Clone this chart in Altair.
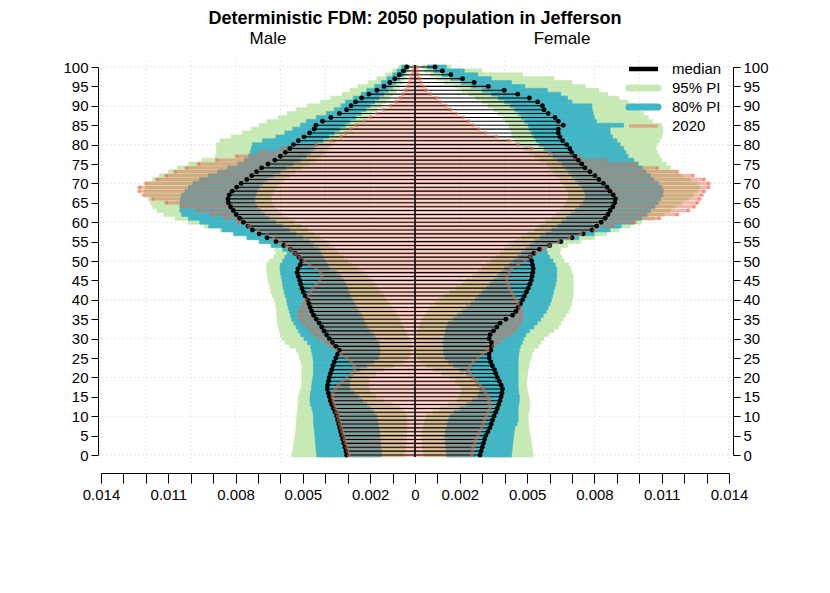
import altair as alt
import pandas as pd

# ---------------- data (values in units of 0.001 = per mille of total population) ----------
AGES = list(range(0, 101))

MALE_MEDIAN = [3.05, 3.08, 3.12, 3.17, 3.22, 3.27, 3.32, 3.36, 3.40, 3.45, 3.49, 3.56, 3.64, 3.71, 3.77, 3.82,
               3.87, 3.91, 3.90, 3.86, 3.82, 3.77, 3.71, 3.66, 3.60, 3.53, 3.45, 3.38, 3.53, 3.68, 3.82, 3.94,
               4.06, 4.16, 4.27, 4.40, 4.52, 4.60, 4.67, 4.73, 4.80, 4.90, 4.98, 5.04, 5.10, 5.14, 5.20, 5.26,
               5.22, 5.12, 5.05, 5.18, 5.35, 5.55, 5.85, 6.20, 6.60, 6.95, 7.25, 7.45, 7.65, 7.82, 7.97, 8.10,
               8.22, 8.32, 8.34, 8.28, 8.15, 7.95, 7.75, 7.50, 7.28, 7.06, 6.84, 6.55, 6.25, 6.00, 5.78, 5.58,
               5.42, 5.20, 4.95, 4.70, 4.50, 4.42, 4.12, 3.75, 3.37, 3.05, 2.85, 2.65, 2.38, 2.06, 1.70, 1.38,
               1.12, 0.90, 0.70, 0.52, 0.37]
MALE_2020 = [2.95, 3.00, 3.05, 3.10, 3.15, 3.20, 3.25, 3.30, 3.35, 3.40, 3.45, 3.50, 3.55, 3.60, 3.65, 3.68,
             3.66, 3.55, 3.42, 3.25, 3.05, 2.85, 2.70, 2.72, 2.85, 3.05, 3.30, 3.50, 3.75, 4.00, 4.25, 4.45,
             4.60, 4.80, 4.97, 5.10, 5.15, 5.15, 5.05, 4.98, 4.88, 4.75, 4.65, 4.55, 4.40, 4.25, 4.15, 4.20,
             4.40, 4.70, 4.95, 5.15, 5.35, 5.55, 5.75, 6.00, 6.30, 6.60, 7.00, 7.40, 7.90, 8.45, 9.06, 9.70,
             10.40, 11.10, 11.70, 12.10, 12.30, 12.30, 12.00, 11.50, 11.10, 10.70, 10.20, 9.66, 8.84, 7.95,
             6.90, 5.94, 4.40, 3.75, 3.30, 3.10, 2.85, 2.60, 2.25, 2.00, 1.70, 1.40, 1.10, 0.85, 0.68, 0.55,
             0.42, 0.33, 0.26, 0.20, 0.15, 0.10, 0.07]
MALE_HI95 = [5.50, 5.45, 5.42, 5.40, 5.37, 5.35, 5.33, 5.30, 5.30, 5.28, 5.27, 5.25, 5.24, 5.22, 5.20, 5.20,
             5.15, 5.10, 5.05, 5.05, 5.05, 5.05, 5.05, 5.05, 5.10, 5.15, 5.20, 5.30, 5.60, 5.80, 5.94, 6.00,
             6.05, 6.10, 6.12, 6.15, 6.17, 6.17, 6.20, 6.22, 6.28, 6.35, 6.42, 6.46, 6.50, 6.55, 6.58, 6.60,
             6.62, 6.62, 6.50, 6.30, 6.20, 6.25, 6.45, 6.85, 7.40, 8.00, 8.70, 9.40, 10.10, 10.70, 11.20, 11.50,
             11.70, 11.80, 11.90, 12.00, 12.05, 12.00, 11.90, 11.70, 11.40, 11.00, 10.60, 10.10, 9.50, 8.90,
             8.85, 8.85, 8.85, 8.70, 8.20, 7.70, 7.30, 6.95, 6.60, 6.10, 5.70, 5.30, 4.80, 4.20, 3.75, 3.25,
             2.90, 2.55, 2.10, 1.70, 1.30, 1.00, 0.74]
MALE_HI80 = [4.38, 4.40, 4.42, 4.43, 4.45, 4.46, 4.48, 4.50, 4.52, 4.53, 4.53, 4.55, 4.60, 4.65, 4.68, 4.68,
             4.66, 4.62, 4.60, 4.58, 4.55, 4.53, 4.53, 4.53, 4.53, 4.55, 4.58, 4.62, 4.65, 4.80, 4.95, 5.10,
             5.20, 5.30, 5.40, 5.50, 5.55, 5.60, 5.65, 5.70, 5.72, 5.78, 5.83, 5.87, 5.90, 5.93, 5.96, 6.00,
             6.02, 6.00, 5.90, 5.80, 5.70, 5.90, 6.40, 6.95, 7.50, 8.10, 8.60, 9.20, 9.60, 10.10, 10.40, 10.48,
             10.48, 10.48, 10.45, 10.40, 10.25, 10.10, 9.90, 9.60, 9.20, 8.80, 8.35, 7.90, 7.60, 7.43, 7.35,
             7.30, 7.25, 6.80, 6.20, 5.80, 5.45, 5.10, 4.85, 4.40, 3.95, 3.60, 3.30, 3.10, 2.75, 2.40, 2.15,
             1.80, 1.50, 1.25, 1.00, 0.80, 0.60]
MALE_LO80 = [1.49, 1.50, 1.52, 1.53, 1.55, 1.56, 1.58, 1.62, 1.65, 1.68, 1.71, 1.85, 2.00, 2.15, 2.35, 2.53,
             2.72, 2.90, 2.92, 2.90, 2.85, 2.75, 2.45, 2.15, 1.85, 1.63, 1.58, 1.56, 1.58, 1.63, 1.75, 1.86,
             2.00, 2.15, 2.23, 2.30, 2.40, 2.50, 2.60, 2.70, 2.80, 2.90, 2.95, 3.00, 3.10, 3.20, 3.30, 3.50,
             3.80, 3.90, 4.00, 4.10, 4.20, 4.30, 4.50, 4.70, 5.00, 5.30, 5.60, 5.90, 6.20, 6.50, 6.70, 6.90,
             7.05, 7.13, 7.15, 7.10, 7.05, 6.95, 6.80, 6.60, 6.30, 6.00, 5.75, 5.45, 5.10, 4.85, 4.65, 4.50,
             4.35, 4.10, 3.85, 3.60, 3.35, 3.10, 2.90, 2.65, 2.40, 2.20, 2.00, 1.80, 1.60, 1.40, 1.20, 1.00,
             0.85, 0.68, 0.52, 0.40, 0.28]
MALE_LO95 = [0.45, 0.43, 0.41, 0.40, 0.38, 0.37, 0.37, 0.37, 0.37, 0.37, 0.37, 0.50, 0.67, 1.00, 1.41, 1.75,
             2.00, 2.05, 2.08, 2.05, 2.00, 1.75, 1.41, 0.95, 0.52, 0.35, 0.22, 0.18, 0.15, 0.20, 0.30, 0.37,
             0.45, 0.52, 0.60, 0.70, 0.80, 0.90, 1.00, 1.15, 1.30, 1.40, 1.55, 1.70, 1.80, 1.95, 2.10, 2.30,
             2.60, 2.80, 3.00, 3.20, 3.40, 3.60, 3.80, 4.00, 4.25, 4.50, 4.80, 5.10, 5.40, 5.70, 5.95, 6.15,
             6.30, 6.39, 6.42, 6.40, 6.30, 6.20, 6.05, 5.85, 5.60, 5.35, 5.05, 4.75, 4.45, 4.20, 4.00, 3.85,
             3.75, 3.55, 3.30, 3.05, 2.80, 2.55, 2.30, 2.10, 1.90, 1.70, 1.50, 1.32, 1.15, 1.00, 0.85, 0.70,
             0.58, 0.46, 0.36, 0.27, 0.19]

FEMALE_MEDIAN = [2.90, 2.95, 3.00, 3.05, 3.10, 3.16, 3.25, 3.34, 3.40, 3.46, 3.52, 3.60, 3.67, 3.73, 3.79, 3.84,
                 3.88, 3.90, 3.84, 3.76, 3.67, 3.60, 3.54, 3.45, 3.37, 3.31, 3.30, 3.38, 3.42, 3.40, 3.30, 3.35,
                 3.50, 3.65, 3.80, 4.05, 4.35, 4.50, 4.60, 4.70, 4.80, 4.88, 4.97, 5.05, 5.12, 5.18, 5.22, 5.25,
                 5.27, 5.24, 5.20, 5.13, 5.30, 5.55, 6.00, 6.50, 7.00, 7.50, 7.90, 8.10, 8.30, 8.48, 8.60, 8.70,
                 8.82, 8.90, 8.94, 8.84, 8.69, 8.57, 8.40, 8.20, 8.02, 7.80, 7.58, 7.43, 7.28, 7.13, 6.98, 6.90,
                 6.76, 6.58, 6.46, 6.39, 6.39, 6.61, 6.39, 6.24, 5.94, 5.75, 5.68, 5.47, 5.10, 4.58, 3.98, 3.27,
                 2.64, 2.12, 1.60, 1.22, 0.89]
FEMALE_2020 = [2.53, 2.57, 2.60, 2.67, 2.73, 2.80, 2.88, 2.97, 3.05, 3.10, 3.18, 3.27, 3.33, 3.33, 3.30, 3.25,
               3.15, 3.05, 2.90, 2.75, 2.60, 2.45, 2.38, 2.45, 2.60, 2.80, 3.00, 3.25, 3.50, 3.70, 3.95, 4.20,
               4.40, 4.55, 4.68, 4.72, 4.75, 4.75, 4.68, 4.60, 4.50, 4.40, 4.30, 4.20, 4.15, 4.10, 4.10, 4.20,
               4.30, 4.60, 4.90, 5.13, 5.40, 5.70, 6.00, 6.40, 6.90, 7.40, 8.00, 8.80, 9.80, 10.90, 11.70, 12.20,
               12.45, 12.60, 12.70, 12.80, 12.90, 13.10, 13.10, 12.90, 12.40, 11.70, 10.80, 9.80, 8.50, 7.30,
               6.00, 5.20, 4.60, 4.20, 3.64, 3.15, 2.85, 2.60, 2.40, 2.15, 1.85, 1.60, 1.40, 1.15, 0.95, 0.70,
               0.50, 0.38, 0.28, 0.20, 0.15, 0.10, 0.08]
FEMALE_HI95 = [5.27, 5.25, 5.22, 5.20, 5.17, 5.13, 5.10, 5.08, 5.06, 5.05, 5.05, 5.07, 5.10, 5.13, 5.12, 5.08,
               5.03, 5.00, 4.98, 4.98, 5.00, 5.02, 5.05, 5.08, 5.12, 5.18, 5.22, 5.30, 5.50, 5.62, 5.75, 5.95,
               6.20, 6.40, 6.50, 6.62, 6.72, 6.85, 6.92, 6.98, 7.02, 7.05, 7.06, 7.06, 7.06, 7.06, 7.05, 7.00,
               6.95, 6.85, 6.65, 6.55, 6.46, 6.50, 6.80, 7.40, 8.00, 8.54, 9.10, 9.60, 10.10, 10.70, 11.10,
               11.40, 11.60, 11.90, 12.20, 12.40, 12.60, 12.70, 12.60, 12.30, 11.90, 11.60, 11.40, 11.20, 11.00,
               10.90, 10.80, 10.75, 10.80, 10.90, 11.00, 11.05, 11.05, 11.00, 10.60, 10.40, 10.20, 10.00, 9.80,
               9.50, 9.10, 8.60, 8.20, 7.60, 7.00, 6.20, 4.80, 3.00, 1.60]
FEMALE_HI80 = [4.30, 4.32, 4.34, 4.36, 4.38, 4.40, 4.42, 4.45, 4.55, 4.60, 4.60, 4.60, 4.60, 4.62, 4.65, 4.65,
               4.62, 4.60, 4.60, 4.60, 4.60, 4.60, 4.60, 4.60, 4.60, 4.60, 4.62, 4.65, 4.70, 4.78, 4.85, 4.95,
               5.10, 5.30, 5.45, 5.60, 5.72, 5.85, 5.94, 6.02, 6.08, 6.13, 6.17, 6.22, 6.27, 6.30, 6.32, 6.32,
               6.32, 6.25, 6.15, 6.00, 5.90, 5.87, 6.10, 6.60, 7.30, 8.00, 8.70, 9.20, 9.80, 10.10, 10.35, 10.50,
               10.70, 10.85, 10.95, 11.05, 11.07, 11.00, 10.85, 10.65, 10.50, 10.30, 10.15, 9.95, 9.75, 9.50,
               9.40, 9.30, 9.15, 9.00, 8.80, 8.70, 8.70, 9.30, 8.10, 8.00, 7.95, 7.90, 7.88, 7.00, 6.80, 6.50,
               5.90, 4.90, 4.30, 3.40, 2.80, 2.20, 1.40]
FEMALE_LO80 = [1.41, 1.40, 1.38, 1.36, 1.35, 1.34, 1.36, 1.40, 1.45, 1.50, 1.56, 1.75, 2.00, 2.30, 2.55, 2.80,
               2.88, 2.90, 2.80, 2.67, 2.50, 2.30, 2.00, 1.71, 1.50, 1.34, 1.30, 1.26, 1.26, 1.26, 1.30, 1.34,
               1.38, 1.41, 1.50, 1.70, 1.90, 2.10, 2.30, 2.50, 2.70, 2.85, 3.00, 3.20, 3.35, 3.50, 3.70, 3.85,
               4.00, 4.20, 4.40, 4.60, 4.75, 4.95, 5.13, 5.35, 5.60, 5.85, 6.10, 6.35, 6.55, 6.75, 6.95, 7.15,
               7.35, 7.50, 7.60, 7.60, 7.55, 7.45, 7.30, 7.15, 7.00, 6.85, 6.70, 6.55, 6.35, 6.15, 5.95, 5.75,
               5.55, 5.40, 5.30, 5.20, 5.10, 5.05, 4.90, 4.75, 4.60, 4.45, 4.25, 4.00, 3.70, 3.40, 3.00, 2.50,
               2.05, 1.60, 1.20, 0.85, 0.55]
FEMALE_LO95 = [0.37, 0.36, 0.34, 0.32, 0.31, 0.30, 0.32, 0.36, 0.40, 0.46, 0.52, 0.80, 1.10, 1.50, 1.86, 2.00,
               2.08, 2.08, 2.00, 1.80, 1.56, 1.20, 0.82, 0.50, 0.22, 0.12, 0.08, 0.08, 0.08, 0.08, 0.10, 0.12,
               0.15, 0.20, 0.25, 0.35, 0.45, 0.55, 0.67, 0.90, 1.10, 1.30, 1.56, 1.85, 2.10, 2.30, 2.55, 2.80,
               3.00, 3.20, 3.40, 3.60, 3.80, 4.00, 4.20, 4.45, 4.75, 5.05, 5.35, 5.60, 5.85, 6.10, 6.30, 6.50,
               6.65, 6.75, 6.85, 6.85, 6.80, 6.70, 6.60, 6.45, 6.30, 6.15, 6.00, 5.85, 5.60, 5.35, 5.10, 4.85,
               4.60, 4.45, 4.35, 4.30, 4.25, 4.20, 4.05, 3.90, 3.70, 3.50, 3.25, 3.00, 2.70, 2.40, 2.10, 1.80,
               1.30, 1.00, 0.70, 0.45, 0.30]

X_TICKS = [round(-0.014 + 0.001 * i, 3) for i in range(29)]
X_LABELED = [0, 2, 5, 8, 11, 14]          # labelled ticks, in 0.001 units (both sides)
Y_TICKS = list(range(0, 101, 5))
GRID_X = [round(-0.014 + 0.002 * i, 3) for i in range(15)]
GRID_Y = list(range(0, 101, 10))

TITLE = "Deterministic FDM: 2050 population in Jefferson"
LEGEND_LABELS = ["median", "95% PI", "80% PI", "2020"]

# ---------------- build table ----------------
rows = []
for sex, sign, med, p20, lo95, hi95, lo80, hi80 in [
    ("Male", -1, MALE_MEDIAN, MALE_2020, MALE_LO95, MALE_HI95, MALE_LO80, MALE_HI80),
    ("Female", 1, FEMALE_MEDIAN, FEMALE_2020, FEMALE_LO95, FEMALE_HI95, FEMALE_LO80, FEMALE_HI80),
]:
    for i, a in enumerate(AGES):
        rows.append(dict(sex=sex, age=a, age_lo=a - 0.5, age_hi=a + 0.5, zero=0.0,
                         med=sign * med[i] / 1000, p2020=sign * p20[i] / 1000,
                         lo95=sign * lo95[i] / 1000, hi95=sign * hi95[i] / 1000,
                         lo80=sign * lo80[i] / 1000, hi80=sign * hi80[i] / 1000))
df = pd.DataFrame(rows)

FONT = "Liberation Sans"
GREEN = "#c7e9b4"
TEAL = "#41b6c4"
SALMON = "#e8674a"
SAL_OP = 0.48

XS = alt.Scale(domain=[-0.014, 0.014], nice=False, zero=False)
YS = alt.Scale(domain=[0, 100], nice=False, zero=False)

lab = "[" + ",".join(str(v) for v in X_LABELED) + "]"
XAX = alt.Axis(values=X_TICKS, labelExpr=(
    f"indexof({lab}, round(abs(datum.value)*1000)) >= 0 ? "
    "(abs(datum.value) < 0.0005 ? '0' : format(abs(datum.value), '.3f')) : ''"),
    orient="bottom", offset=18, tickSize=10, labelFontSize=15, labelFont=FONT,
    labelColor="black", domainColor="black", tickColor="black", grid=False,
    labelFlush=False, labelOverlap=False, labelPadding=4, title=None)


def yaxis(orient, offset):
    return alt.Axis(orient=orient, values=Y_TICKS, offset=offset, tickSize=7, labelFontSize=15,
                    labelFont=FONT, labelColor="black", domainColor="black", tickColor="black",
                    grid=False, labelOverlap=False, labelPadding=3, title=None,
                    labelBaseline="middle")


def X(f):
    return alt.X(f, type="quantitative", scale=XS, axis=XAX, title=None)


def Y(f, axis=None):
    return alt.Y(f, type="quantitative", scale=YS, axis=axis, title=None)


base = alt.Chart(df)

grid_v = alt.Chart(pd.DataFrame({"gx": GRID_X})).mark_rule(
    color="#d3d3d3", strokeDash=[1, 3], strokeWidth=1).encode(
    x=X("gx"), y=alt.YDatum(-1.8, scale=YS, axis=None), y2=alt.Y2Datum(101.8))
grid_h = alt.Chart(pd.DataFrame({"gy": GRID_Y})).mark_rule(
    color="#d3d3d3", strokeDash=[1, 3], strokeWidth=1).encode(
    y=Y("gy"), x=alt.XDatum(-0.0141, scale=XS, axis=XAX), x2=alt.X2Datum(0.0141))

pi95 = base.mark_rect(color=GREEN, stroke=GREEN, strokeWidth=0.6).encode(
    x=X("lo95"), x2="hi95", y=Y("age_lo", yaxis("left", 3)), y2="age_hi")
pi80 = base.mark_rect(color=TEAL, stroke=TEAL, strokeWidth=0.6).encode(
    x=X("lo80"), x2="hi80", y=Y("age_lo", yaxis("right", 4)), y2="age_hi")

p20_seg = base.mark_rule(color=SALMON, opacity=SAL_OP, strokeWidth=3.3).encode(
    x=X("zero"), x2="p2020", y=Y("age"))

med_seg = base.mark_rule(color="black", strokeWidth=1.1).encode(
    x=X("zero"), x2="med", y=Y("age"))
med_pt = base.mark_circle(color="black", size=24, opacity=1).encode(
    x=X("med"), y=Y("age"))

p20_pt = base.mark_circle(color=SALMON, size=16, opacity=0.55).encode(
    x=X("p2020"), y=Y("age"))

center = alt.Chart(pd.DataFrame({"c": [0.0]})).mark_rule(color="black", strokeWidth=1.6).encode(
    x=X("c"), y=alt.YDatum(-0.5, scale=YS, axis=None), y2=alt.Y2Datum(100.5))

# ---------------- legend (manual) ----------------
leg_y = [2, 21, 40, 59]
leg_styles = [
    dict(color="black", strokeWidth=4.5, opacity=1.0, strokeCap="butt"),
    dict(color=GREEN, strokeWidth=7, opacity=1.0, strokeCap="round"),
    dict(color=TEAL, strokeWidth=7, opacity=1.0, strokeCap="round"),
    dict(color=SALMON, strokeWidth=3.5, opacity=SAL_OP, strokeCap="butt"),
]
legend_layers = []
for label, yy, st in zip(LEGEND_LABELS, leg_y, leg_styles):
    d = pd.DataFrame({"label": [label]})
    legend_layers.append(alt.Chart(d).mark_rule(**st).encode(
        x=alt.value(528), x2=alt.value(557), y=alt.value(yy)))
    legend_layers.append(alt.Chart(d).mark_text(
        align="left", baseline="middle", fontSize=15, font=FONT, color="black").encode(
        text="label:N", x=alt.value(571), y=alt.value(yy)))

title_t = alt.Chart(pd.DataFrame({"t": [TITLE]})).mark_text(
    align="center", baseline="middle", fontSize=18, fontWeight="bold", font=FONT, color="black").encode(
    text="t:N", x=alt.value(314), y=alt.value(-48))
male_t = alt.Chart(pd.DataFrame({"t": ["Male"]})).mark_text(
    align="center", baseline="middle", fontSize=17, font=FONT, color="black").encode(
    text="t:N", x=alt.value(167), y=alt.value(-28))
female_t = alt.Chart(pd.DataFrame({"t": ["Female"]})).mark_text(
    align="center", baseline="middle", fontSize=17, font=FONT, color="black").encode(
    text="t:N", x=alt.value(461), y=alt.value(-28))

chart = alt.layer(
    grid_v, grid_h, pi95, pi80, p20_seg, med_seg, med_pt, p20_pt, center,
    *legend_layers, title_t, male_t, female_t
).resolve_axis(y="independent").properties(
    width=628, height=388,
    autosize=alt.AutoSizeParams(type="none"),
    padding={"left": 93, "top": 59, "right": 90, "bottom": 120},
    background="white",
).configure_view(stroke=None)

chart.save("out.html", embed_options={"renderer": "svg", "actions": False})
